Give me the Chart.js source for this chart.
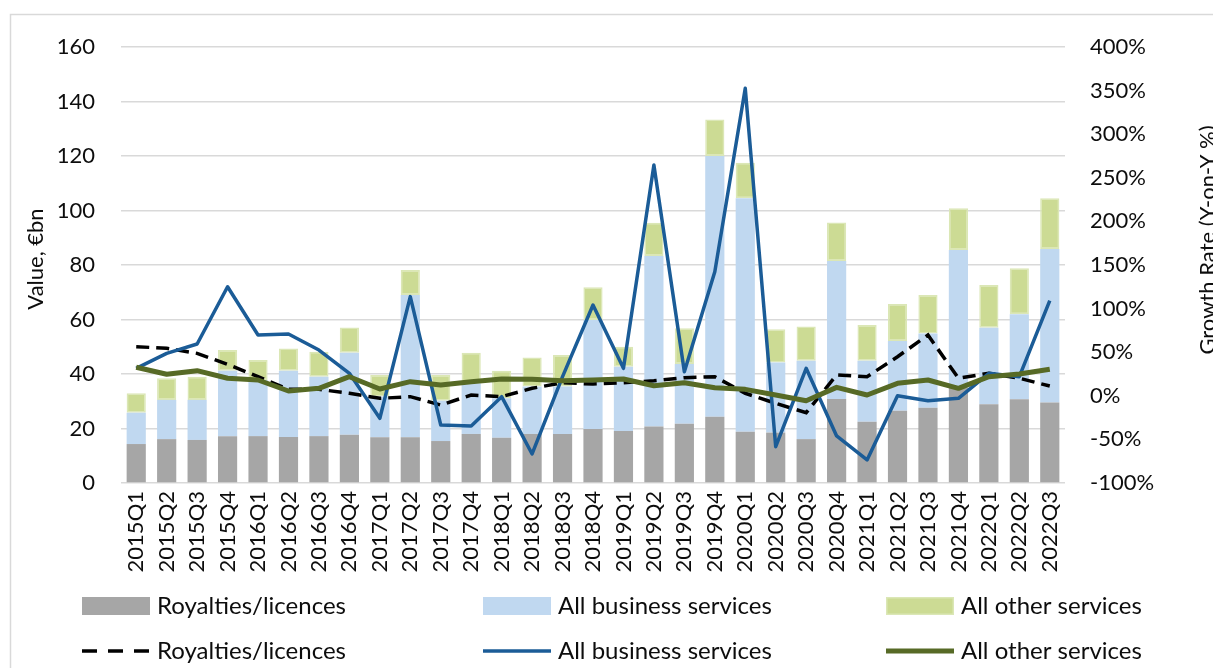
<!DOCTYPE html>
<html><head><meta charset="utf-8">
<script src="https://cdn.jsdelivr.net/npm/chart.js@4.4.0/dist/chart.umd.min.js"></script>
<style>html,body{margin:0;padding:0;background:#fff;overflow:hidden}#wrap{width:1213px;height:668px;position:relative}</style>
</head><body><div id="wrap"><canvas id="c" width="1213" height="668"></canvas></div>
<script>
const categories = ["2015Q1","2015Q2","2015Q3","2015Q4","2016Q1","2016Q2","2016Q3","2016Q4","2017Q1","2017Q2","2017Q3","2017Q4","2018Q1","2018Q2","2018Q3","2018Q4","2019Q1","2019Q2","2019Q3","2019Q4","2020Q1","2020Q2","2020Q3","2020Q4","2021Q1","2021Q2","2021Q3","2021Q4","2022Q1","2022Q2","2022Q3"];
const royalties = [14.3,16.1,15.8,17.2,17.2,16.9,17.2,17.7,16.8,16.8,15.4,18.0,16.6,18.0,18.0,19.8,19.1,20.7,21.7,24.3,18.8,18.5,16.1,30.8,22.5,26.5,27.6,34.9,28.9,30.7,29.5];
const business = [11.5,14.4,14.7,24.0,20.6,24.3,21.8,30.1,14.9,52.2,14.8,18.6,14.5,17.4,17.4,40.0,23.6,62.6,22.0,95.7,85.7,25.7,28.8,50.7,22.4,25.6,27.3,50.6,28.1,31.2,56.4];
const other = [7.1,7.9,8.5,7.6,7.3,8.2,9.2,9.3,7.9,9.2,9.4,11.2,10.1,10.7,11.6,12.0,7.3,12.2,13.1,13.4,13.0,12.2,12.5,14.1,13.1,13.6,14.1,15.3,15.7,16.9,18.6];
const royaltiesGrowth = [56.3,54.5,48.7,36.1,21.9,7.4,7.4,2.9,-2.9,-1.0,-10.6,0.9,-1.0,8.6,15.0,13.5,15.0,17.3,20.8,21.9,2.9,-8.6,-19.4,23.9,21.9,44.8,69.7,20.1,25.8,20.1,11.2];
const businessGrowth = [31.5,48.7,59.4,125.1,69.7,70.9,52.5,25.8,-25.8,113.7,-33.5,-34.6,-1.0,-66.7,22.0,104.1,31.5,264.7,27.6,142.3,352.6,-58.4,31.5,-46.1,-73.6,0.1,-5.6,-2.9,25.8,21.9,109.1];
const otherGrowth = [32.7,24.7,28.8,20.1,18.1,5.5,8.6,21.9,7.8,16.2,12.4,16.2,19.3,19.1,17.3,18.1,19.3,11.6,15.0,9.3,7.4,0.9,-5.6,9.7,0.9,14.3,18.1,8.6,21.9,25.0,30.4];
const seriesNames = ["Royalties/licences","All business services","All other services"];
const valueAxisTitle = "Value, €bn";
const growthAxisTitle = "Growth Rate (Y-on-Y %)";

const FONT = "Lato";
const TXT = "#0d0d0d";
const GRID = "#d9d9d9";

const extras = {
  id: "extras",
  beforeDraw(chart) {
    const ctx = chart.ctx;
    ctx.save();
    ctx.strokeStyle = GRID;
    ctx.lineWidth = 1.5;
    ctx.strokeRect(10.5, 14.5, 1300, 700);
    ctx.restore();
  },
  afterDraw(chart) {
    const ctx = chart.ctx;
    const ca = chart.chartArea;
    ctx.save();
    ctx.fillStyle = TXT;
    ctx.font = "22px " + FONT;
    ctx.textAlign = "center";
    ctx.textBaseline = "middle";
    ctx.save();
    ctx.translate(36, (ca.top + ca.bottom) / 2 - 6);
    ctx.rotate(-Math.PI / 2);
    ctx.fillText(valueAxisTitle, 0, 0);
    ctx.restore();
    ctx.save();
    ctx.translate(1208, 240);
    ctx.rotate(-Math.PI / 2);
    ctx.fillText(growthAxisTitle, 0, 0);
    ctx.restore();
    // legend
    const ds = chart.data.datasets;
    const cols = [82, 483, 886];
    const rows = [606, 651];
    const bw = 68;
    ctx.textAlign = "left";
    ctx.font = "24px " + FONT;
    for (let i = 0; i < 6; i++) {
      const d = ds[i];
      const col = i % 3, row = Math.floor(i / 3);
      const x = cols[col], y = rows[row];
      if (row === 0) {
        ctx.fillStyle = d.backgroundColor;
        ctx.fillRect(x, y - 9, bw, 18);
        if (d.borderWidth) {
          ctx.strokeStyle = d.borderColor;
          ctx.lineWidth = 1.5;
          ctx.strokeRect(x + 0.75, y - 8.25, bw - 1.5, 16.5);
        }
      } else {
        ctx.strokeStyle = d.borderColor;
        ctx.lineWidth = d.borderWidth;
        ctx.setLineDash(d.borderDash && d.borderDash.length ? [15, 11] : []);
        ctx.beginPath();
        ctx.moveTo(x, y);
        ctx.lineTo(x + bw, y);
        ctx.stroke();
        ctx.setLineDash([]);
      }
      ctx.fillStyle = TXT;
      ctx.fillText(d.label, x + 75, y);
    }
    ctx.restore();
  }
};

new Chart(document.getElementById("c"), {
  data: {
    labels: categories,
    datasets: [
      { type: "bar", label: seriesNames[0], data: royalties, backgroundColor: "#a6a6a6", yAxisID: "y", order: 3, stack: "s" },
      { type: "bar", label: seriesNames[1], data: business, backgroundColor: "#c0d8f0", yAxisID: "y", order: 3, stack: "s" },
      { type: "bar", label: seriesNames[2], data: other, backgroundColor: "#ccdb94", borderColor: "#dbe7b6", borderWidth: 1.5, borderSkipped: false, yAxisID: "y", order: 3, stack: "s" },
      { type: "line", label: seriesNames[0], data: royaltiesGrowth, borderColor: "#000000", borderWidth: 3.5, borderDash: [13, 7], pointRadius: 0, yAxisID: "y1", order: 2, tension: 0 },
      { type: "line", label: seriesNames[1], data: businessGrowth, borderColor: "#1b5c97", borderWidth: 3.5, borderJoinStyle: "round", pointRadius: 0, yAxisID: "y1", order: 1, tension: 0 },
      { type: "line", label: seriesNames[2], data: otherGrowth, borderColor: "#576a26", borderWidth: 5, borderJoinStyle: "round", pointRadius: 0, yAxisID: "y1", order: 0, tension: 0 }
    ]
  },
  options: {
    responsive: false,
    animation: false,
    devicePixelRatio: 1,
    layout: { padding: { top: 47, left: 0, right: 0, bottom: 0 } },
    datasets: { bar: { categoryPercentage: 1, barPercentage: 0.63 } },
    plugins: { legend: { display: false }, tooltip: { enabled: false } },
    scales: {
      x: {
        stacked: true,
        grid: { display: false, drawTicks: false },
        border: { display: false },
        ticks: { autoSkip: false, minRotation: 90, maxRotation: 90, padding: 8, color: TXT, font: { family: FONT, size: 22 } },
        afterFit: s => { s.height = 185; }
      },
      y: {
        position: "left",
        stacked: true,
        min: 0, max: 160,
        ticks: { stepSize: 20, padding: 26, color: TXT, font: { family: FONT, size: 22 } },
        grid: { color: GRID, lineWidth: 1.5, drawTicks: false },
        border: { display: false },
        afterFit: s => { s.width = 121; }
      },
      y1: {
        position: "right",
        min: -100, max: 400,
        ticks: { stepSize: 50, padding: 25, color: TXT, font: { family: FONT, size: 22 }, callback: v => v + "%" },
        grid: { display: false, drawTicks: false },
        border: { display: false },
        afterFit: s => { s.width = 148; }
      }
    }
  },
  plugins: [extras]
});
</script>
</body></html>
